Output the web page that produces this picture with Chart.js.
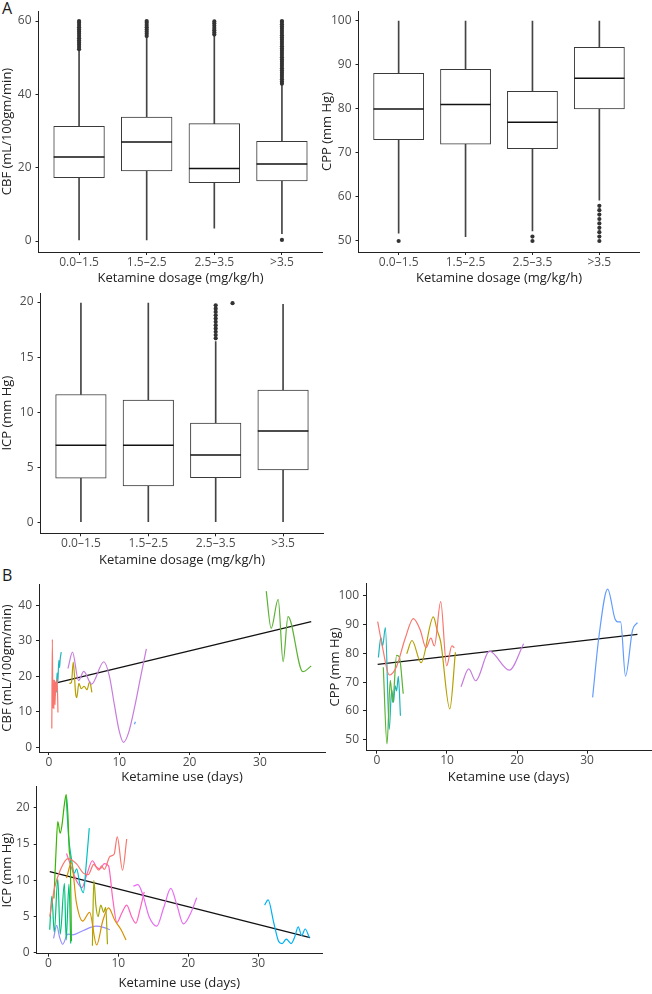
<!DOCTYPE html>
<html>
<head>
<meta charset="utf-8">
<script src="https://cdn.jsdelivr.net/npm/chart.js@4.4.1/dist/chart.umd.min.js"></script>
<style>
  html, body { margin: 0; padding: 0; background: #ffffff; }
  body { width: 652px; height: 994px; position: relative; overflow: hidden; font-family: "Open Sans", sans-serif; }
  .plabel { position: absolute; font: 16px/16px "Open Sans", sans-serif; color: #1a1a1a; }
</style>
</head>
<body>
<div class="plabel" style="left:2px; top:0px;">A</div>
<div class="plabel" style="left:2px; top:567px;">B</div>
<script>
// ---------------- DATA ----------------
const dosageCategories = ['0.0–1.5', '1.5–2.5', '2.5–3.5', '>3.5'];

// Panel A: CBF (mL/100gm/min) box plots
const cbfQ1 = [17.3, 19.1, 15.9, 16.4];
const cbfMedian = [22.9, 27.0, 19.8, 21.0];
const cbfQ3 = [31.3, 33.8, 32.0, 27.2];
const cbfWhiskerLow = [0.3, 0.3, 3.5, 2.0];
const cbfWhiskerHigh = [52.0, 55.6, 56.0, 42.6];
const cbfOutliers = [
  [52.3, 52.9, 53.5, 54.1, 54.7, 55.3, 55.9, 56.5, 57.1, 57.7, 58.3, 58.9, 59.5, 60.0],
  [55.9, 56.5, 57.1, 57.7, 58.3, 58.9, 59.5, 60.0],
  [56.3, 56.9, 57.5, 58.1, 58.7, 59.3, 59.9],
  [0.3, 42.9, 43.5, 44.1, 44.7, 45.3, 45.9, 46.5, 47.1, 47.7, 48.3, 48.9, 49.5, 50.1, 50.7, 51.3, 51.9, 52.5, 53.1, 53.7, 54.3, 54.9, 55.5, 56.1, 56.7, 57.3, 57.9, 58.5, 59.1, 59.7, 60.0]
];
const cbfTicks = [0, 20, 40, 60];

// Panel A: CPP (mm Hg) box plots
const cppQ1 = [73.0, 72.0, 71.0, 80.0];
const cppMedian = [80.0, 81.0, 77.0, 87.0];
const cppQ3 = [88.1, 89.0, 84.0, 94.0];
const cppWhiskerLow = [51.8, 51.0, 52.3, 59.3];
const cppWhiskerHigh = [100.0, 100.0, 100.0, 100.0];
const cppOutliers = [
  [50.0],
  [],
  [50.0, 51.0],
  [50.0, 51.0, 52.0, 53.0, 54.0, 55.0, 56.0, 57.0, 58.0]
];
const cppTicks = [50, 60, 70, 80, 90, 100];

// Panel A: ICP (mm Hg) box plots
const icpQ1 = [4.0, 3.3, 4.05, 4.75];
const icpMedian = [7.0, 7.0, 6.1, 8.3];
const icpQ3 = [11.6, 11.1, 9.0, 12.0];
const icpWhiskerLow = [0, 0, 0, 0];
const icpWhiskerHigh = [19.9, 19.9, 16.4, 19.8];
const icpOutliers = [
  [],
  [],
  [16.7, 17.0, 17.3, 17.6, 17.9, 18.2, 18.5, 18.8, 19.1, 19.4, 19.7],
  []
];
const icpStrayPoint = [{ x: 3.25, y: 19.9 }];
const icpTicks = [0, 5, 10, 15, 20];

// Panel B: ketamine use (days) vs measurement, per patient [day, value]
const dayTicks = [0, 10, 20, 30];

const cbfPatientRed = [[0.40, 5.3], [0.48, 30.4], [0.55, 11.0], [0.62, 19.0], [0.70, 10.8], [0.78, 19.0], [0.86, 12.0], [0.95, 18.5], [1.05, 16.0], [1.15, 19.2], [1.28, 9.8]];
const cbfPatientCyan = [[0.85, 14.5], [0.95, 17.5], [1.05, 15.5], [1.15, 21.0], [1.25, 18.0], [1.40, 24.5], [1.50, 22.5], [1.60, 25.0], [1.75, 26.8]];
const cbfPatientOlive = [[2.90, 18.0], [3.20, 18.3], [3.45, 24.0], [3.80, 15.0], [3.95, 14.0], [4.25, 18.0], [4.60, 16.5], [5.00, 17.2], [5.40, 16.2], [5.80, 18.5], [6.10, 15.5]];
const cbfPatientPurple = [[2.70, 22.2], [3.35, 26.8], [4.20, 18.8], [4.95, 21.4], [6.05, 17.8], [7.80, 24.1], [8.60, 20.0], [9.30, 12.0], [10.0, 4.5], [10.6, 1.4], [11.3, 4.0], [12.2, 11.5], [13.0, 19.5], [13.85, 27.7]];
const cbfPatientBlue = [[12.15, 6.5], [12.30, 7.2]];
const cbfPatientGreen = [[30.9, 44.0], [31.6, 33.5], [32.6, 41.7], [33.3, 24.1], [34.0, 36.8], [36.1, 21.3], [37.3, 22.9]];
const cbfTrend = [[0.9, 18.1], [37.3, 35.4]];

const cppPatientRed = [[0.10, 91.1], [0.80, 82.0], [1.76, 72.5], [2.80, 75.5], [4.00, 85.0], [5.20, 92.1], [6.20, 88.0], [7.00, 82.0], [7.70, 85.3], [8.20, 82.6], [9.10, 98.0], [9.95, 75.7], [10.7, 82.6], [11.05, 82.0]];
const cppPatientCyan = [[0.20, 78.6], [0.55, 85.5], [0.80, 82.6], [1.20, 89.0], [1.75, 53.6], [2.10, 67.5], [2.35, 63.0], [2.60, 68.7], [2.80, 67.0], [3.05, 72.0], [3.35, 58.3]];
const cppPatientGreen = [[0.90, 75.2], [1.43, 48.5], [1.90, 70.6], [2.24, 63.0], [2.80, 79.3], [3.20, 78.7], [3.75, 66.0]];
const cppPatientOlive = [[4.25, 79.9], [5.00, 84.5], [6.30, 76.8], [8.05, 92.7], [8.60, 88.0], [9.10, 84.0], [10.4, 60.7], [11.2, 80.4]];
const cppPatientPurple = [[12.0, 68.4], [13.1, 74.6], [14.1, 70.5], [16.05, 80.8], [18.9, 74.2], [20.95, 83.4]];
const cppPatientBlue = [[30.8, 64.7], [31.7, 85.8], [32.95, 102.4], [34.0, 92.0], [34.4, 91.0], [34.8, 91.0], [35.5, 72.1], [36.5, 88.1], [37.2, 90.7]];
const cppTrend = [[0.1, 76.2], [37.2, 86.6]];

const icpPatientRed = [[0.2, 5.0], [0.9, 9.0], [1.7, 11.4], [2.8, 13.0], [4.0, 12.3], [5.0, 11.0], [5.7, 10.8], [6.5, 12.2], [7.2, 11.4], [7.6, 12.0], [8.0, 11.5], [8.8, 13.3], [9.4, 13.6], [9.85, 16.0], [10.6, 11.4], [11.2, 15.7]];
const icpPatientOrange = [[2.6, 10.3], [3.3, 12.4], [4.0, 7.0], [4.9, 4.4], [5.9, 5.6], [6.9, 1.1], [7.8, 4.5], [8.6, 6.2], [9.5, 4.5], [10.4, 3.2], [11.1, 1.8]];
const icpPatientOlive = [[6.3, 1.0], [6.5, 10.0], [6.8, 6.5], [7.1, 5.0], [7.5, 6.6], [7.9, 5.6], [8.2, 6.3], [8.45, 1.2]];
const icpPatientLime = [[0.8, 7.5], [1.1, 14.0], [1.35, 18.1], [1.7, 16.5], [1.95, 17.6], [2.3, 20.5], [2.55, 21.8], [2.8, 19.0], [3.0, 14.0], [3.15, 12.5], [3.3, 1.6]];
const icpPatientTeal = [[0.2, 3.2], [0.5, 7.8], [0.85, 2.9], [1.35, 10.2], [1.7, 2.6], [2.3, 9.6], [2.55, 1.8], [2.95, 9.5], [3.2, 1.3]];
const icpPatientCyan = [[2.55, 21.5], [2.9, 16.0], [3.3, 13.0], [3.7, 11.0], [4.05, 11.6], [4.5, 9.5], [5.0, 8.3], [5.4, 12.0], [5.85, 17.2]];
const icpPatientBlue = [[30.9, 6.6], [31.4, 7.3], [32.2, 4.2], [32.9, 1.6], [33.4, 1.3], [34.0, 1.9], [34.7, 1.3], [35.2, 2.2], [35.7, 3.6], [36.2, 2.4], [36.7, 3.3], [37.3, 2.1]];
const icpPatientLavender = [[0.75, 2.0], [1.2, 3.8], [1.6, 2.2], [2.05, 1.2], [2.8, 2.6], [3.5, 2.5], [5.0, 3.1], [6.8, 3.7], [8.0, 3.5], [8.8, 3.2]];
const icpPatientPurple = [[12.15, 9.2], [12.8, 9.4], [13.5, 8.0], [14.4, 5.0], [15.5, 3.7], [16.5, 6.3], [17.5, 8.9], [18.4, 6.5], [19.3, 4.0], [20.3, 5.4], [21.2, 7.6]];
const icpPatientPink = [[2.6, 13.7], [3.4, 11.5], [4.1, 9.8], [4.8, 9.0], [5.5, 10.8], [6.3, 12.7], [6.9, 11.8], [7.4, 11.6], [8.0, 12.3], [8.6, 12.0], [9.2, 7.5], [9.8, 4.2], [10.5, 5.5], [11.2, 6.6], [11.9, 5.0], [12.5, 4.1], [13.1, 6.0], [13.7, 8.4]];
const icpTrend = [[0.2, 11.2], [37.4, 2.1]];

// ---------------- STYLE / LAYOUT ----------------
const FONT = '"Open Sans", "DejaVu Sans", sans-serif';
const TICK_COLOR = '#4d4d4d';
const TITLE_COLOR = '#222222';
const AXIS_COLOR = '#222222';
const TICK_SIZE = 12;
const TITLE_SIZE = 13;
const TITLE_LH = TITLE_SIZE * 1.2;

const panels = {
  a1: { cx: 0,   cy: -3,  cw: 326, ch: 291, L: 38.5, R: 322.5, T: 11,    B: 252,   yTitleX: 7.5, xTitleY: 278 },
  a2: { cx: 318, cy: -3,  cw: 334, ch: 291, L: 358.5, R: 639.5, T: 11,   B: 252,   yTitleX: 327, xTitleY: 278 },
  a3: { cx: 0,   cy: 279, cw: 326, ch: 290, L: 40.5, R: 323.5, T: 293,   B: 533.3, yTitleX: 7.5, xTitleY: 560 },
  b1: { cx: 0,   cy: 570, cw: 326, ch: 218, L: 39,   R: 325,   T: 584,   B: 752,   yTitleX: 7.5, xTitleY: 777 },
  b2: { cx: 318, cy: 569, cw: 334, ch: 218, L: 366,  R: 651,   T: 583.3, B: 750.7, yTitleX: 335, xTitleY: 777 },
  b3: { cx: 0,   cy: 773, cw: 326, ch: 221, L: 36.7, R: 322,   T: 786.7, B: 953.7, yTitleX: 7.5, xTitleY: 983 }
};

function makeCanvas(g) {
  const c = document.createElement('canvas');
  c.width = g.cw; c.height = g.ch;
  c.style.cssText = 'position:absolute;left:' + g.cx + 'px;top:' + g.cy + 'px;width:' + g.cw + 'px;height:' + g.ch + 'px;';
  document.body.appendChild(c);
  return c;
}

function gridOpts() {
  return { drawOnChartArea: false, drawTicks: true, tickLength: 3, color: AXIS_COLOR, lineWidth: 1, offset: false };
}

function xScale(g, min, max, ticks, labelFn, title) {
  return {
    type: 'linear', min: min, max: max, offset: false,
    afterBuildTicks: function (s) { s.ticks = ticks.map(function (v) { return { value: v }; }); },
    afterFit: function (s) { s.height = g.cy + g.ch - g.B; },
    ticks: { callback: labelFn, font: { family: FONT, size: TICK_SIZE }, color: TICK_COLOR, padding: 0, maxRotation: 0, autoSkip: false },
    grid: gridOpts(),
    border: { display: true, color: AXIS_COLOR, width: 1 },
    title: { display: true, text: title, font: { family: FONT, size: TITLE_SIZE }, color: TITLE_COLOR,
             padding: { top: 0, bottom: g.cy + g.ch - g.xTitleY - TITLE_LH / 2 } }
  };
}

function yScale(g, min, max, ticks, title) {
  return {
    type: 'linear', min: min, max: max,
    afterBuildTicks: function (s) { s.ticks = ticks.map(function (v) { return { value: v }; }); },
    afterFit: function (s) { s.width = g.L - g.cx; },
    ticks: { callback: function (v) { return String(v); }, font: { family: FONT, size: TICK_SIZE }, color: TICK_COLOR, padding: 4 },
    grid: gridOpts(),
    border: { display: true, color: AXIS_COLOR, width: 1 },
    title: { display: true, text: title, font: { family: FONT, size: TITLE_SIZE }, color: TITLE_COLOR,
             padding: { top: g.yTitleX - g.cx - TITLE_LH / 2, bottom: 0 } }
  };
}

function baseOptions(g) {
  return {
    responsive: false, animation: false, devicePixelRatio: 1,
    layout: { autoPadding: false, padding: { left: 0, top: g.T - g.cy, right: g.cx + g.cw - g.R, bottom: 0 } },
    plugins: { legend: { display: false }, tooltip: { enabled: false } },
    events: []
  };
}

function boxChart(g, q1, med, q3, wlo, whi, outliers, extra, yMin, yMax, yTicks, yTitle) {
  const unitPx = (g.R - g.L) / 4.2;
  const bw = 0.75 * unitPx;
  const xs = dosageCategories.map(function (_, i) { return i + 1; });
  const outlierPts = [];
  outliers.forEach(function (arr, i) { arr.forEach(function (v) { outlierPts.push({ x: i + 1, y: v }); }); });
  (extra || []).forEach(function (p) { outlierPts.push(p); });
  const whiskers = [];
  xs.forEach(function (x, i) { whiskers.push({ x: x, y: [q3[i], whi[i]] }); whiskers.push({ x: x, y: [wlo[i], q1[i]] }); });
  const opts = baseOptions(g);
  opts.scales = {
    x: xScale(g, 0.4, 4.6, xs, function (v) { return dosageCategories[Math.round(v) - 1]; }, 'Ketamine dosage (mg/kg/h)'),
    y: yScale(g, yMin, yMax, yTicks, yTitle)
  };
  new Chart(makeCanvas(g), {
    type: 'bar',
    data: {
      datasets: [
        { type: 'bar', data: whiskers, backgroundColor: '#444444', borderWidth: 0, barThickness: 1, grouped: false, order: 4 },
        { type: 'bar', data: xs.map(function (x, i) { return { x: x, y: [q1[i], q3[i]] }; }),
          backgroundColor: '#ffffff', borderColor: '#3a3a3a', borderWidth: 1, borderSkipped: false, barThickness: bw, grouped: false, order: 3 },
        { type: 'scatter', data: outlierPts, pointRadius: 2.1, pointBackgroundColor: '#333333', pointBorderWidth: 0, order: 2 },
        { type: 'scatter', data: xs.map(function (x, i) { return { x: x, y: med[i] }; }),
          pointStyle: 'line', pointRadius: bw / 2, pointBorderColor: '#111111', pointBorderWidth: 1.5, order: 1 }
      ]
    },
    options: opts
  });
}

function lineChart(g, xMin, xMax, yMin, yMax, yTicks, series, trend, yTitle) {
  const datasets = series.map(function (s) {
    return { type: 'line', data: s.pts.map(function (p) { return { x: p[0], y: p[1] }; }),
             borderColor: s.color, borderWidth: 1.2, pointRadius: 0, cubicInterpolationMode: 'monotone', fill: false };
  });
  datasets.push({ type: 'line', data: trend.map(function (p) { return { x: p[0], y: p[1] }; }),
                  borderColor: '#111111', borderWidth: 1.3, pointRadius: 0, tension: 0, fill: false });
  const opts = baseOptions(g);
  opts.scales = {
    x: xScale(g, xMin, xMax, dayTicks, function (v) { return String(v); }, 'Ketamine use (days)'),
    y: yScale(g, yMin, yMax, yTicks, yTitle)
  };
  new Chart(makeCanvas(g), { type: 'line', data: { datasets: datasets }, options: opts });
}

// ---------------- BUILD ----------------
boxChart(panels.a1, cbfQ1, cbfMedian, cbfQ3, cbfWhiskerLow, cbfWhiskerHigh, cbfOutliers, null, -3, 62.73, cbfTicks, 'CBF (mL/100gm/min)');
boxChart(panels.a2, cppQ1, cppMedian, cppQ3, cppWhiskerLow, cppWhiskerHigh, cppOutliers, null, 47.5, 102.27, cppTicks, 'CPP (mm Hg)');
boxChart(panels.a3, icpQ1, icpMedian, icpQ3, icpWhiskerLow, icpWhiskerHigh, icpOutliers, icpStrayPoint, -1, 20.82, icpTicks, 'ICP (mm Hg)');

lineChart(panels.b1, -1.42, 39.26, -1.32, 46.0, [0, 10, 20, 30, 40], [
  { pts: cbfPatientPurple, color: '#C77CDD' },
  { pts: cbfPatientOlive, color: '#B79F00' },
  { pts: cbfPatientRed, color: '#F8766D' },
  { pts: cbfPatientCyan, color: '#1FB5BC' },
  { pts: cbfPatientBlue, color: '#619CFF' },
  { pts: cbfPatientGreen, color: '#5BB234' }
], cbfTrend, 'CBF (mL/100gm/min)');

lineChart(panels.b2, -1.57, 39.14, 46.17, 104.4, [50, 60, 70, 80, 90, 100], [
  { pts: cppPatientRed, color: '#F8766D' },
  { pts: cppPatientOlive, color: '#B79F00' },
  { pts: cppPatientGreen, color: '#5BB234' },
  { pts: cppPatientCyan, color: '#1FB5BC' },
  { pts: cppPatientPurple, color: '#C77CDD' },
  { pts: cppPatientBlue, color: '#619CFF' }
], cppTrend, 'CPP (mm Hg)');

lineChart(panels.b3, -1.66, 39.1, -0.1, 22.9, icpTicks, [
  { pts: icpPatientRed, color: '#F8766D' },
  { pts: icpPatientOrange, color: '#D89000' },
  { pts: icpPatientOlive, color: '#A3A500' },
  { pts: icpPatientLime, color: '#39B600' },
  { pts: icpPatientTeal, color: '#00BF7D' },
  { pts: icpPatientCyan, color: '#00BFC4' },
  { pts: icpPatientBlue, color: '#00B0F6' },
  { pts: icpPatientLavender, color: '#9590FF' },
  { pts: icpPatientPurple, color: '#E76BF3' },
  { pts: icpPatientPink, color: '#FF62BC' }
], icpTrend, 'ICP (mm Hg)');
</script>
</body>
</html>
